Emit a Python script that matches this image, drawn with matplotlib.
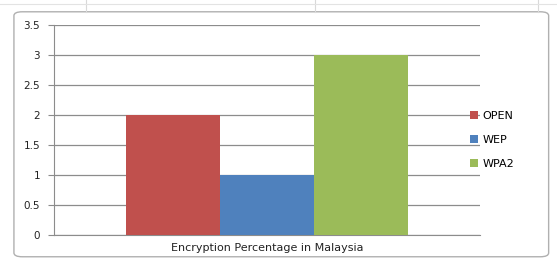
import matplotlib
matplotlib.use("Agg")
import matplotlib.pyplot as plt
from matplotlib.patches import FancyBboxPatch

# data
series = ["OPEN", "WEP", "WPA2"]
values = [2, 1, 3]
colors = ["#C0504D", "#4F81BD", "#9BBB59"]
category = "Encryption Percentage in Malaysia"
yticks = [0, 0.5, 1, 1.5, 2, 2.5, 3, 3.5]

fig = plt.figure(figsize=(5.57, 2.62), dpi=100)

# faint spreadsheet background lines
for xx in [0.155, 0.565, 0.965]:
    fig.add_artist(plt.Line2D([xx, xx], [0.955, 1.0], color="#d9d9d9", lw=0.8))
fig.add_artist(plt.Line2D([0.0, 1.0], [0.985, 0.985], color="#e3e3e3", lw=0.8))

# chart frame
frame = FancyBboxPatch((0.025, 0.02), 0.96, 0.935, boxstyle="round,pad=0,rounding_size=0.015",
                       transform=fig.transFigure, facecolor="white", edgecolor="#b0b0b0", lw=1.0)
fig.add_artist(frame)

ax = fig.add_axes([0.097, 0.103, 0.765, 0.802])
ax.set_zorder(2)
ax.patch.set_alpha(0)

offsets = [-1, 0, 1]
for off, v, c, name in zip(offsets, values, colors, series):
    ax.bar(off, v, width=1.0, color=c, label=name, zorder=3)

ax.set_xlim(-2.27, 2.27)
ax.set_ylim(0, 3.5)
ax.set_yticks(yticks)
ax.set_yticklabels([f"{t:g}" for t in yticks], fontsize=7.5, color="#222222")
ax.yaxis.grid(True, color="#8c8c8c", lw=0.9)
ax.set_axisbelow(True)
ax.set_xticks([0])
ax.set_xticklabels([category], fontsize=8, color="#222222")
ax.tick_params(axis="x", length=0, pad=6)
ax.tick_params(axis="y", length=4, color="#8c8c8c", pad=6)
for s in ["top", "right"]:
    ax.spines[s].set_visible(False)
ax.spines["left"].set_color("#8c8c8c")
ax.spines["bottom"].set_color("#8c8c8c")

fig.legend(loc="center left", bbox_to_anchor=(0.825, 0.466), frameon=False, fontsize=8,
           handlelength=0.8, handleheight=0.8, handletextpad=0.4, labelspacing=1.25)

fig.savefig("out.png", dpi=100)
